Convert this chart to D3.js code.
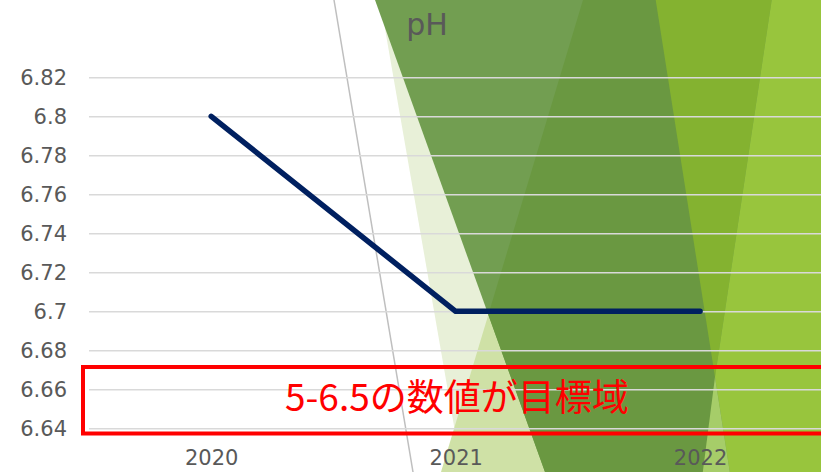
<!DOCTYPE html>
<html>
<head>
<meta charset="utf-8">
<script src="https://cdn.jsdelivr.net/npm/d3@7"></script>
<style>
  html, body { margin: 0; padding: 0; background: #ffffff; overflow: hidden; }
  svg { display: block; }
</style>
</head>
<body>
<svg id="chart" width="821" height="472"></svg>
<script>
// ---- data ----
const years = ["2020", "2021", "2022"];
const phValues = [6.8, 6.7, 6.7];
const yTickValues = [6.64, 6.66, 6.68, 6.70, 6.72, 6.74, 6.76, 6.78, 6.80, 6.82];
const yTickLabels = ["6.64", "6.66", "6.68", "6.7", "6.72", "6.74", "6.76", "6.78", "6.8", "6.82"];
const chartTitle = "pH";
const targetNote = "5-6.5の数値が目標域";

// ---- layout ----
const W = 821, H = 472;
const plot = { left: 89, right: 822.3, top: 77.3, bottom: 428.3 };
const labelFont = "'DejaVu Sans', Verdana, sans-serif";
const textGray = "#595959";

const svg = d3.select("#chart");

// Slide backdrop: green theme facets
const facets = [
  { fill: "#E8F0D8", pts: [[380, 0], [821, 0], [821, 472], [462, 472]] },
  { fill: "#CFE1A6", pts: [[583, 0], [821, 0], [821, 472], [441, 472]] },
  { fill: "#729E51", pts: [[375, 0], [821, 0], [821, 472], [545, 472]] },
  { fill: "#6A9841", pts: [[583, 0], [821, 0], [821, 472], [545, 472], [488.3, 314.7]] },
  { fill: "#84B230", pts: [[655.7, 0], [771.7, 0], [715, 377]] },
  { fill: "#98C53D", pts: [[771.7, 0], [821, 0], [821, 472], [729.8, 472], [715, 377]] },
  { fill: "#A6CD69", pts: [[715, 377], [702.8, 472], [729.8, 472]] }
];
const bg = svg.append("g").attr("class", "backdrop");
bg.selectAll("polygon").data(facets).join("polygon")
  .attr("points", d => d.pts.map(p => p.join(",")).join(" "))
  .attr("fill", d => d.fill);
bg.append("line")
  .attr("x1", 334).attr("y1", 0).attr("x2", 413).attr("y2", 472)
  .attr("stroke", "#BFBFBF").attr("stroke-width", 1.5);

// ---- scales ----
const x = d3.scalePoint().domain(years).range([plot.left, plot.right]).padding(0.5);
const y = d3.scaleLinear().domain([6.64, 6.82]).range([plot.bottom, plot.top]);

// Gridlines
const grid = svg.append("g")
  .attr("transform", `translate(${plot.left},0)`)
  .call(d3.axisLeft(y).tickValues(yTickValues).tickSize(-(W - plot.left)).tickFormat(""));
grid.select(".domain").remove();
grid.selectAll(".tick line").attr("stroke", "#D9D9D9").attr("stroke-width", 1.6);

// Y axis labels
const yAxis = svg.append("g")
  .attr("transform", `translate(${plot.left},0)`)
  .call(d3.axisLeft(y).tickValues(yTickValues).tickSize(0).tickPadding(22)
    .tickFormat((d, i) => yTickLabels[i]));
yAxis.select(".domain").remove();
yAxis.selectAll("text")
  .attr("fill", textGray).attr("font-size", 21).attr("font-family", labelFont);

// X axis labels
const xAxis = svg.append("g")
  .attr("transform", `translate(0,${plot.bottom})`)
  .call(d3.axisBottom(x).tickSize(0).tickPadding(22));
xAxis.select(".domain").remove();
xAxis.selectAll("text")
  .attr("fill", textGray).attr("font-size", 21).attr("font-family", labelFont);

// Title
svg.append("text")
  .attr("x", 427).attr("y", 35)
  .attr("text-anchor", "middle")
  .attr("fill", textGray).attr("font-size", 30).attr("font-family", labelFont)
  .text(chartTitle);

// pH line
const series = years.map((yr, i) => ({ year: yr, value: phValues[i] }));
svg.append("path")
  .datum(series)
  .attr("fill", "none")
  .attr("stroke", "#002060")
  .attr("stroke-width", 5.5)
  .attr("stroke-linecap", "round")
  .attr("stroke-linejoin", "round")
  .attr("d", d3.line().x(d => x(d.year)).y(d => y(d.value)));

// Target range note
svg.append("rect")
  .attr("x", 83).attr("y", 367).attr("width", 760).attr("height", 66.5)
  .attr("fill", "none").attr("stroke", "#FF0000").attr("stroke-width", 4);
svg.append("text")
  .attr("x", 285).attr("y", 411)
  .attr("fill", "#FF0000").attr("font-size", 37)
  .attr("font-family", "'Noto Sans CJK JP', sans-serif")
  .text(targetNote);
</script>
</body>
</html>
